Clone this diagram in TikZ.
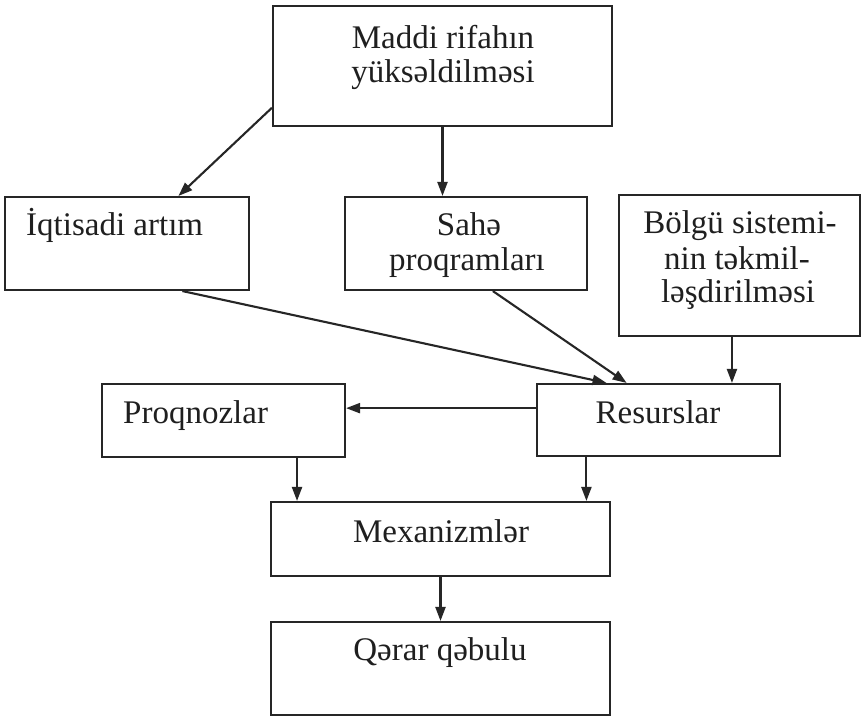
\documentclass[tikz,border=0pt]{standalone}
\usepackage{fontspec}
\setmainfont{Liberation Serif}
\usetikzlibrary{arrows.meta,calc}
\definecolor{ink}{HTML}{262626}
\begin{document}
\begin{tikzpicture}[x=1pt,y=-1pt,
 box/.style={draw=ink,line width=2.1pt,inner sep=0pt},
 lbl/.style={font=\fontsize{33}{37}\selectfont,text=black!88,inner sep=0pt,anchor=base},
 arr/.style={draw=ink,line width=2.1pt,-{Triangle[length=14pt,width=10pt]}}]
\useasboundingbox[fill=white] (0,0) rectangle (863,718);
% boxes
\node[box,minimum width=339pt,minimum height=120pt] (b1) at (442.5,66) {};
\node[box,minimum width=244pt,minimum height=93pt] (b2) at (127,243.5) {};
\node[box,minimum width=242pt,minimum height=93pt] (b3) at (466,243.5) {};
\node[box,minimum width=241pt,minimum height=141pt] (b4) at (739.5,265.5) {};
\node[box,minimum width=243pt,minimum height=73pt] (b5) at (223.5,420.5) {};
\node[box,minimum width=243pt,minimum height=72pt] (b6) at (658.5,420) {};
\node[box,minimum width=339pt,minimum height=74pt] (b7) at (440.5,539) {};
\node[box,minimum width=339pt,minimum height=93pt] (b8) at (440.5,668.5) {};
% labels
\node[lbl] (t1a) at (443,48) {Maddi rifahın};
\node[lbl] (t1b) at (443,82) {yüksəldilməsi};
\node[lbl,anchor=base west] (t2) at (26,235) {İqtisadi artım};
\node[lbl] (t3a) at (469,235) {Sahə};
\node[lbl] (t3b) at (467,270) {proqramları};
\node[lbl] (t4a) at (740,233) {Bölgü sistemi-};
\node[lbl] (t4b) at (737,269) {nin təkmil-};
\node[lbl] (t4c) at (738,302) {ləşdirilməsi};
\node[lbl,anchor=base west] (t5) at (123,423) {Proqnozlar};
\node[lbl] (t6) at (658,423) {Resurslar};
\node[lbl] (t7) at (441,542) {Mexanizmlər};
\node[lbl] (t8) at (440,660) {Qərar qəbulu};
% connector points
\coordinate (p1) at ($(b1.south west)!0.158!(b1.north west)$);
\coordinate (p2) at ($(b2.north west)!0.709!(b2.north east)$);
\coordinate (p3) at ($(b2.south west)!0.725!(b2.south east)$);
\coordinate (p4) at ($(b6.north west)!0.288!(b6.north east)$);
\coordinate (p5) at ($(b3.south west)!0.61!(b3.south east)$);
\coordinate (p6) at ($(b6.north west)!0.37!(b6.north east)$);
\coordinate (p7) at ($(b4.south west)!0.469!(b4.south east)$);
\coordinate (p8) at ($(b6.north west)!0.34!(b6.south west)$);
\coordinate (p9) at ($(b5.south west)!0.8!(b5.south east)$);
\coordinate (p10) at ($(b6.south west)!0.206!(b6.south east)$);
% connectors
\draw[arr] (p1) -- (p2);
\draw[arr] (b1.south) -- (b1.south |- b3.north);
\draw[arr] (p3) -- (p4);
\draw[arr] (p5) -- (p6);
\draw[arr] (p7) -- (p7 |- b6.north);
\draw[arr] (p8) -- (p8 -| b5.east);
\draw[arr] (p9) -- (p9 |- b7.north);
\draw[arr] (p10) -- (p10 |- b7.north);
\draw[arr] (b7.south) -- (b7.south |- b8.north);
\end{tikzpicture}
\end{document}
